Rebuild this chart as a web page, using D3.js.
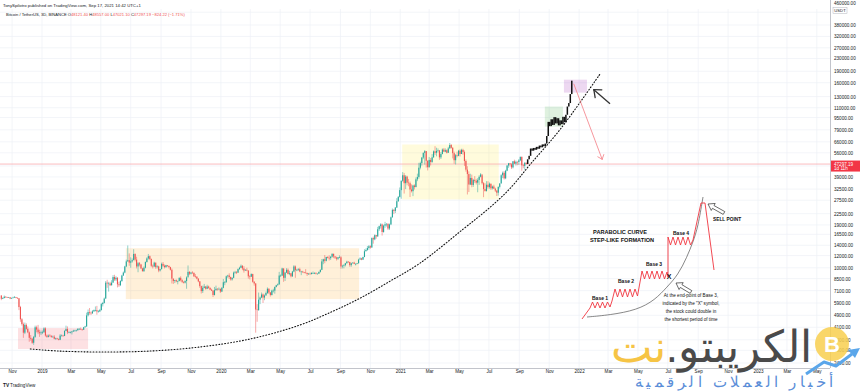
<!DOCTYPE html>
<html><head><meta charset="utf-8">
<script src="https://cdn.jsdelivr.net/npm/d3@7/dist/d3.min.js"></script>
<style>body{margin:0;background:#fff}svg{display:block}text{font-family:"Liberation Sans",Arial,sans-serif}</style>
</head><body>
<svg id="c" width="860" height="391"></svg>
<script>
// ---------------- DATA ----------------
const startDate = "2018-10-10";   // open date of first 3D candle
const periodDays = 3;
const firstOpen = 6600;
const closes = [
6280,6350,6480,6420,6400,6420,6300,6360,6400,6450,6380,6330,5550,4620,4300,3780,4250,4000,3800,3500,3450,3250,3550,4100,3960,3800,3750,3800,
3800,4030,3620,3550,3620,3600,3550,3560,3450,3470,3440,3400,3620,3620,3600,3880,3990,3800,3800,3800,3850,3900,3900,3920,4000,4000,3980,3950,4100,4150,
4900,5150,5100,5050,5200,5300,5300,5200,5200,5300,5800,5900,6300,8000,7900,7900,7700,8000,8700,8400,8600,7800,7700,8200,8900,9300,10200,11000,11200,10800,
11000,11200,12300,11300,10200,10700,10500,9900,9500,10000,10900,11500,11900,11400,10300,10200,10800,10100,10200,9600,9800,10600,10300,10100,10400,10300,10100,9700,8500,8200,8300,8150,
8200,8600,8300,8100,8000,8200,8650,9400,9150,9300,9250,8800,8750,8500,8150,7600,7050,7400,7550,7300,7550,7400,7200,7100,6650,7150,7300,7250,7300,7000,
7400,8050,8050,8800,8900,8700,8400,8600,9300,9400,9300,9800,10000,10300,9900,9600,9700,9600,8800,8750,9100,8100,7900,5350,5300,6200,6400,6700,6400,6600,
6850,7300,6900,6650,7100,7100,7500,7700,7800,8900,8900,9900,8600,9300,9700,9100,9200,8800,9450,10200,9650,9700,9800,9450,9450,9380,9300,9250,9100,9150,
9100,9250,9250,9250,9150,9150,9400,9700,11000,11350,11100,11750,11600,11550,11800,12300,11850,11650,11450,11700,11700,10200,10300,10400,10700,10950,10900,10400,10700,10800,10600,10600,
10700,11300,11500,11300,11750,12800,13050,13450,13800,13550,15600,15300,16300,16000,17800,18650,19150,17100,18800,19200,19350,18000,19150,21300,23800,23450,24650,27100,28900,32000,
36800,40000,35500,39200,35800,35500,32300,31500,34300,33500,37600,39000,44800,48000,52100,55900,57400,49700,45100,50300,48800,52300,57200,56000,57600,58000,52300,55000,58800,57000,
58200,56000,59800,62900,60300,55700,50100,54000,53500,57800,55000,58500,56700,49500,43500,40700,34800,38400,34600,37300,36800,35800,37300,39100,40500,35500,32500,31600,34700,33500,
35300,32900,33800,32700,31800,30800,33600,35400,40000,41500,38200,42800,46300,47800,47100,45000,49300,47600,48900,48800,50000,52700,46400,46000,48121.4,47297.19];
const highs = [
6620,6420,6600,6520,6470,6460,6440,6400,6480,6550,6460,6400,6350,5650,4700,4400,4400,4350,4150,3850,3650,3500,3600,4200,4200,4250,3950,3900,
3900,4100,4100,3680,3680,3700,3650,3620,3640,3510,3500,3470,3700,3680,3660,3920,4200,4150,3860,3850,3880,3950,3950,3960,4050,4060,4090,4000,4120,4190,
5100,5350,5470,5200,5300,5350,5600,5650,5300,5400,5900,6000,6400,8200,8350,8100,8100,8300,8950,9000,8800,8700,8100,8300,9000,9450,10300,11300,13970,12400,
11700,11500,13200,12400,11800,10900,10900,10600,10000,10200,11000,11700,12300,12000,11500,10500,10950,10800,10400,10300,9850,10800,10900,10500,10450,10400,10300,10150,9900,8500,8350,8400,
8250,8650,8800,8420,8150,8300,8800,10350,9500,9400,9500,9350,9100,8800,8550,8200,7650,7650,7850,7600,7750,7650,7450,7300,7150,7500,7650,7350,7450,7300,
7500,8450,8200,8900,9000,9200,8750,8650,9450,9550,9500,9900,10150,10500,10400,10250,9800,10000,9600,8950,9200,9150,8200,7950,5800,6900,6500,6900,6800,6700,
7000,7450,7350,6950,7200,7300,7550,7750,7900,9400,9050,10000,9900,9400,9950,9900,9550,9250,9550,10400,10350,9850,9950,10000,9550,9550,9400,9800,9300,9250,
9300,9350,9450,9350,9350,9200,9450,9750,11400,11450,12100,11800,11900,12050,11900,12450,12400,11900,11800,11750,12050,11900,10450,10550,10750,11100,11050,10950,10800,10850,10950,10700,
10750,11450,11700,11600,11800,13200,13350,13850,14050,14000,15750,15950,16500,16350,18450,18800,19500,19400,19050,19900,19450,19400,19400,21550,24300,24100,24850,28400,29300,33300,
37000,41950,41400,40100,39700,37850,36400,34900,34700,34900,38700,40950,48200,49000,52600,56400,58350,57500,50000,52600,51800,54900,58000,61800,60400,59800,58400,56600,59800,60200,
59800,58900,61200,64850,63800,61000,57000,55000,57000,58500,59000,59500,59500,58000,50700,45800,42400,40900,40400,37900,39500,37900,38300,40000,41300,39500,36100,35500,36600,36600,
35900,35100,34300,34700,33200,32000,33800,35400,40600,42300,42600,43400,46500,48100,48100,47900,49500,50500,49800,49300,51000,52900,52900,47300,48800,48557];
const lows = [
6150,6250,6330,6380,6360,6370,6250,6280,6340,6380,6330,6270,5300,4450,4200,3500,3700,3950,3750,3300,3350,3200,3150,3500,3800,3700,3550,3650,
3700,3780,3560,3500,3520,3560,3500,3520,3420,3390,3400,3370,3380,3580,3560,3590,3870,3700,3750,3740,3680,3820,3850,3840,3900,3940,3950,3890,3940,4080,
4130,4820,4950,4920,5020,5170,5200,4950,5100,5150,5280,5600,5850,6300,7400,7000,7600,7650,8000,8200,8200,7450,7500,7600,8100,8850,9200,10100,10950,10300,
10000,10800,11200,11000,9900,9350,10200,9800,9450,9400,9900,10800,11300,11200,10100,9900,10100,9850,9900,9350,9450,9750,10100,9900,10000,10150,9900,9600,7900,7850,7950,8050,
7800,8150,8150,7950,7900,7900,7300,8950,8950,9050,9150,8700,8600,8400,8050,7400,6800,6850,7350,7200,7250,7300,7150,7050,6450,6600,7100,7100,7150,6850,
6950,7350,7700,8000,8600,8450,8250,8250,8550,9150,9100,9250,9700,9950,9650,9300,9550,9500,8500,8400,8700,8000,7650,3780,4450,5250,5800,6350,5900,6150,
6600,6750,6750,6500,6600,6900,6780,7450,7650,7750,8700,8850,8100,8200,9250,9050,8950,8650,8700,9350,8600,9500,9550,9350,8950,9250,9200,9200,8850,9000,
9050,9050,9150,9100,9050,9050,9100,9300,9650,10550,10700,11000,11500,11150,11250,11650,11550,11400,11150,11250,11550,9850,9900,9900,10200,10650,10800,10150,10150,10650,10550,10350,
10550,10650,11300,11200,11250,11700,12800,12900,13100,13300,13500,14350,15100,15450,15900,17350,18000,16200,16900,18200,18550,17600,17600,18950,21200,22350,22700,24500,26850,28650,
28100,36300,30400,32500,34400,33900,28850,30900,29250,32300,33400,36600,38000,43700,46200,50900,46900,44900,43000,44900,46300,48100,52000,54200,53100,56300,50400,51000,54700,56700,
56500,55400,56000,59600,59600,51500,47500,47000,52300,53200,53000,55300,54500,46000,42200,30000,31100,34500,33400,33600,35700,34800,31000,34600,38700,34800,28800,31300,31300,32700,
32700,32100,32300,32600,31100,29300,29500,32800,35300,38300,37500,37700,42500,44700,45600,43900,44300,47300,46300,46500,46700,49400,42800,44400,43400,47021.1];

// projected "bars pattern" (black) after the last candle
const projStart = "2021-09-18";
const projCloses = [50800,53500,59700,57800,60200,58600,61200,59500,62400,60800,63500,61800,64300,72000,89000,83500,92500,85000,95500,87000,94000,84500,91000,86000,96000,88500,99000,112000,118000,135000,165000];

// dotted parabolic support curve
const curveDates  = ["2018-12-08","2019-02-06","2019-04-29","2019-08-09","2019-11-19","2020-02-29","2020-06-10","2020-08-17","2020-10-11","2020-12-11","2021-02-10","2021-05-09","2021-07-03","2021-08-13","2021-09-23","2021-11-23","2022-02-13"];
const curvePrices = [2960,2870,2830,2870,3050,3435,4235,5220,6340,8175,10700,17800,24700,32800,47000,79300,183000];

// highlighted zones
const zoneStart = ["2018-11-13","2019-06-21","2021-01-05","2021-10-23","2021-12-01"];
const zoneEnd   = ["2019-04-05","2020-10-09","2021-07-21","2021-11-29","2022-01-17"];
const zoneLow   = [2960,6250,27850,82900,138000];
const zoneHigh  = [4050,13400,63400,112000,167500];

// arrows [fromDate, fromPrice, toDate, toPrice]
const redArrow   = ["2021-12-21",157700,"2022-02-17",50800];
const blackArrow = ["2022-03-05",116900,"2022-01-31",144200];

const lastPrice = 47297.19;
const priceTicks = [2400,2900,3400,4100,4900,5900,7100,8500,10000,12000,14000,16500,19000,22500,27500,32500,39000,46000,56000,66000,79000,95000,110000,130000,160000,190000,230000,270000,320000,380000,460000];
const hiddenTick = 46000;   // covered by the last-price label
const monthNames = ["Jan","Feb","Mar","Apr","May","Jun","Jul","Aug","Sep","Oct","Nov","Dec"];

// inset illustration (coordinates in the inset's own units)
const insetZigzag = [[12,129],[20,118],[22.5,112],[25,118],[27.5,112],[30,118],[32.5,112],[35,118],[37.5,112],[40,117],[42,111],
 [45,99],[47.5,107],[50,99],[52.5,107],[55,99],[57.5,107],[60,99],[62.5,107],[65,99],[67.5,106],
 [72,81],[74.5,89],[77,81],[79.5,89],[82,81],[84.5,89],[87,81],[89.5,89],[92,81],[94.5,89],[97,82],[98,87],
 [98,47],[100.5,55],[103,47],[105.5,55],[108,47],[110.5,55],[113,47],[115.5,55],[118,47],[120.5,55],[123,50],
 [131,13],[135,13],[144,80]];
const insetCurve = [[17,127],[40,125],[67,120],[85,110],[97,97],[108,85],[117,67],[123,52],[128,37],[133,7]];
const baseLabels = ["Base 1","Base 2","Base 3","Base 4"];
const baseLabelPos = [[22,110],[48,93],[76,76],[103,45]];
const noteLines = ["At the end-point of Base 3,","indicated by the \"X\" symbol,","the stock could double in","the shortest period of time"];

// ---------------- DRAW ----------------
const svg = d3.select("#c");
const W = 860, H = 391, plotR = 830, plotT = 9, plotB = 368;
const P = d3.utcParse("%Y-%m-%d");
const x = d3.scaleUtc().domain([Date.UTC(2019,0,1), Date.UTC(2023,0,1)]).range([42,758]);
const y = d3.scaleLog().domain([2400,380000]).range([363,25]);

svg.append("rect").attr("width",W).attr("height",H).attr("fill","#fff");
svg.append("defs").append("clipPath").attr("id","pc").append("rect")
  .attr("x",0).attr("y",plotT).attr("width",plotR).attr("height",plotB-plotT);

// grid
const timeTicks = d3.utcMonth.every(2).range(new Date(Date.UTC(2018,10,1)), new Date(Date.UTC(2023,5,2)));
const grid = svg.append("g").attr("clip-path","url(#pc)");
grid.selectAll("line.v").data(timeTicks).join("line")
  .attr("x1",d=>x(d)).attr("x2",d=>x(d)).attr("y1",plotT).attr("y2",plotB)
  .attr("stroke","#eef1f6").attr("stroke-width",0.7);
grid.selectAll("line.h").data(priceTicks).join("line")
  .attr("x1",0).attr("x2",plotR).attr("y1",d=>y(d)).attr("y2",d=>y(d))
  .attr("stroke","#eef1f6").attr("stroke-width",0.7);

const plot = svg.append("g").attr("clip-path","url(#pc)");

// zones
const zoneColors = ["rgba(242,54,69,0.15)","rgba(255,152,0,0.15)","rgba(255,235,59,0.18)","rgba(76,175,80,0.18)","rgba(156,39,176,0.18)"];
zoneStart.forEach((s,i)=>{
  plot.append("rect").attr("x",x(P(s))).attr("width",x(P(zoneEnd[i]))-x(P(s)))
    .attr("y",y(zoneHigh[i])).attr("height",y(zoneLow[i])-y(zoneHigh[i]))
    .attr("fill",zoneColors[i]);
});

// last price line
plot.append("line").attr("x1",0).attr("x2",plotR).attr("y1",y(lastPrice)).attr("y2",y(lastPrice))
  .attr("stroke","#f7a9ae").attr("stroke-width",0.8);

// candles
const t0 = P(startDate);
const candles = closes.map((c,i)=>({
  d: d3.utcDay.offset(t0, i*periodDays),
  o: i===0 ? firstOpen : closes[i-1], c, h: highs[i], l: lows[i]
}));
const bw = 1.1;
const cg = plot.append("g");
cg.selectAll("line").data(candles).join("line")
  .attr("x1",d=>x(d.d)).attr("x2",d=>x(d.d))
  .attr("y1",d=>y(d.h)).attr("y2",d=>y(d.l))
  .attr("stroke",d=>d.c>=d.o?"#26a69a":"#ef5350").attr("stroke-width",0.5);
cg.selectAll("rect").data(candles).join("rect")
  .attr("x",d=>x(d.d)-bw/2).attr("width",bw)
  .attr("y",d=>y(Math.max(d.o,d.c)))
  .attr("height",d=>Math.max(0.6,y(Math.min(d.o,d.c))-y(Math.max(d.o,d.c))))
  .attr("fill",d=>d.c>=d.o?"#26a69a":"#ef5350");

// projection
const p0 = P(projStart);
const proj = projCloses.map((c,i)=>({d:d3.utcDay.offset(p0,i*periodDays), o: i===0?lastPrice:projCloses[i-1], c}));
plot.append("g").selectAll("rect").data(proj).join("rect")
  .attr("x",d=>x(d.d)-0.75).attr("width",1.5)
  .attr("y",d=>y(Math.max(d.o,d.c))).attr("height",d=>Math.max(0.8,Math.abs(y(d.o)-y(d.c))))
  .attr("fill","#111");

// dotted curve
plot.append("path")
  .datum(curveDates.map((d,i)=>[x(P(d)),y(curvePrices[i])]))
  .attr("d",d3.line().curve(d3.curveCatmullRom))
  .attr("fill","none").attr("stroke","#111").attr("stroke-width",1.1)
  .attr("stroke-dasharray","0.9,2.1").attr("stroke-linecap","round");

// arrows
function arrow(g, a, color, w, head){
  const x1=x(P(a[0])), y1=y(a[1]), x2=x(P(a[2])), y2=y(a[3]);
  g.append("line").attr("x1",x1).attr("y1",y1).attr("x2",x2).attr("y2",y2)
    .attr("stroke",color).attr("stroke-width",w);
  const ang = Math.atan2(y2-y1,x2-x1);
  [ang+Math.PI*0.78, ang-Math.PI*0.78].forEach(b=>{
    g.append("line").attr("x1",x2).attr("y1",y2)
      .attr("x2",x2+head*Math.cos(b)).attr("y2",y2+head*Math.sin(b))
      .attr("stroke",color).attr("stroke-width",w).attr("stroke-linecap","round");
  });
}
arrow(plot, redArrow, "#f47c84", 0.8, 5);
arrow(plot, blackArrow, "#333", 1.3, 8);

// ---------- inset illustration ----------
const ix = d3.scaleLinear().domain([0,160]).range([570,730]);
const iy = d3.scaleLinear().domain([0,140]).range([190,330]);
const ins = plot.append("g");
ins.append("path").datum(insetCurve).attr("d",d3.line().x(d=>ix(d[0])).y(d=>iy(d[1])).curve(d3.curveBasis))
  .attr("fill","none").attr("stroke","#555").attr("stroke-width",0.7);
ins.append("path").datum(insetZigzag).attr("d",d3.line().x(d=>ix(d[0])).y(d=>iy(d[1])))
  .attr("fill","none").attr("stroke","#f0353f").attr("stroke-width",0.9).attr("stroke-linejoin","miter");
ins.append("text").attr("x",ix(50)).attr("y",iy(44)).attr("text-anchor","middle")
  .attr("font-size",5.6).attr("font-weight","bold").attr("fill","#111").text("PARABOLIC CURVE");
ins.append("text").attr("x",ix(52)).attr("y",iy(52)).attr("text-anchor","middle")
  .attr("font-size",5.6).attr("font-weight","bold").attr("fill","#111").text("STEP-LIKE FORMATION");
baseLabels.forEach((t,i)=>ins.append("text").attr("x",ix(baseLabelPos[i][0])).attr("y",iy(baseLabelPos[i][1]))
  .attr("font-size",5).attr("font-weight","bold").attr("fill","#111").text(t));
ins.append("text").attr("x",ix(99)).attr("y",iy(89)).attr("text-anchor","middle")
  .attr("font-size",7).attr("font-weight","bold").attr("fill","#111").text("X");
ins.append("text").attr("x",ix(143)).attr("y",iy(31))
  .attr("font-size",4.8).attr("font-weight","bold").attr("fill","#111").text("SELL POINT");
noteLines.forEach((t,i)=>ins.append("text").attr("x",ix(121)).attr("y",iy(107+i*8)).attr("text-anchor","middle")
  .attr("font-size",4.6).attr("fill","#111").text(t));
function hollowArrow(tip, tail){
  const tx=ix(tip[0]), ty=iy(tip[1]), ex=ix(tail[0]), ey=iy(tail[1]);
  const L=Math.hypot(ex-tx,ey-ty), a=Math.atan2(ey-ty,ex-tx)*180/Math.PI;
  const pts=[[0,0],[6,-4],[6,-1.6],[L,-1.6],[L,1.6],[6,1.6],[6,4]];
  ins.append("polygon").attr("points",pts.map(p=>p.join(",")).join(" "))
    .attr("transform",`translate(${tx},${ty}) rotate(${a})`)
    .attr("fill","#fff").attr("stroke","#222").attr("stroke-width",0.6);
}
hollowArrow([138,14],[154,23]);
hollowArrow([106,93],[121,102]);

// ---------- axes ----------
svg.append("line").attr("x1",plotR+0.5).attr("x2",plotR+0.5).attr("y1",0).attr("y2",plotB)
  .attr("stroke","#b2b5be").attr("stroke-width",0.8);
svg.append("line").attr("x1",0).attr("x2",plotR).attr("y1",plotB+0.5).attr("y2",plotB+0.5)
  .attr("stroke","#b2b5be").attr("stroke-width",0.8);

const ya = svg.append("g").attr("transform",`translate(${plotR},0)`)
  .call(d3.axisRight(y).tickValues(priceTicks.filter(v=>v!==hiddenTick)).tickFormat(d3.format(".2f")).tickSize(0).tickPadding(4));
ya.select(".domain").remove();
ya.selectAll("text").attr("font-size",4.6).attr("fill","#131722").attr("font-family","Liberation Sans, Arial, sans-serif");
ya.selectAll(".tick").filter(d=>d===460000).attr("transform","translate(0,4)");

const xa = svg.append("g").attr("transform",`translate(0,${plotB})`)
  .call(d3.axisBottom(x).tickValues(timeTicks)
    .tickFormat(d=>d.getUTCMonth()===0? String(d.getUTCFullYear()) : monthNames[d.getUTCMonth()])
    .tickSize(0).tickPadding(2));
xa.select(".domain").remove();
xa.selectAll("text").attr("font-size",4.6).attr("fill","#131722").attr("font-family","Liberation Sans, Arial, sans-serif");

// USDT tag
svg.append("rect").attr("x",833).attr("y",7.5).attr("width",14).attr("height",6)
  .attr("fill","#fff").attr("stroke","#b2b5be").attr("stroke-width",0.5);
svg.append("text").attr("x",840).attr("y",12.1).attr("text-anchor","middle").attr("font-size",4.2).attr("fill","#131722").text("USDT");

// last price label
const ly = y(lastPrice);
svg.append("rect").attr("x",plotR+1).attr("y",ly-3.5).attr("width",29).attr("height",11).attr("fill","#f23645");
svg.append("text").attr("x",plotR+4).attr("y",ly+1.6).attr("font-size",4.6).attr("fill","#fff").text(d3.format(".2f")(lastPrice));
svg.append("text").attr("x",plotR+4).attr("y",ly+6.4).attr("font-size",4.6).attr("fill","#fff").text("1d 11h");

// header
svg.append("text").attr("x",3).attr("y",6.5).attr("font-size",4.3).attr("fill","#131722")
  .text("TonySpilotro published on TradingView.com, Sep 17, 2021 14:42 UTC+1");
const h2 = svg.append("text").attr("x",6).attr("y",16).attr("font-size",4.1).attr("fill","#131722");
h2.append("tspan").text("Bitcoin / TetherUS, 3D, BINANCE  O");
h2.append("tspan").attr("fill","#ef5350").text("48121.40");
h2.append("tspan").text(" H");
h2.append("tspan").attr("fill","#ef5350").text("48557.00");
h2.append("tspan").text(" L");
h2.append("tspan").attr("fill","#ef5350").text("47021.10");
h2.append("tspan").text(" C");
h2.append("tspan").attr("fill","#ef5350").text("47297.19 \u2212824.22 (\u22121.71%)");

// TradingView footer
svg.append("text").attr("x",3).attr("y",387).attr("font-size",4.8).attr("font-weight","bold").attr("fill","#131722").text("TV");
svg.append("text").attr("x",10).attr("y",387).attr("font-size",4.6).attr("fill","#131722").text("TradingView");

// watermark
const wm = svg.append("g");
wm.append("circle").attr("cx",832).attr("cy",344).attr("r",17).attr("fill","#f8cf4f").attr("opacity",0.85);
wm.append("text").attr("x",832).attr("y",352).attr("text-anchor","middle").attr("font-size",22)
  .attr("font-weight","bold").attr("fill","#fff").text("B");
wm.append("polyline").attr("points","806,374 824,362 836,366 852,354")
  .attr("fill","none").attr("stroke","#5aa6ea").attr("stroke-width",3).attr("stroke-linejoin","round");
wm.append("polygon").attr("points","860,348 848,350 855,358").attr("fill","#5aa6ea");
const t1 = wm.append("text").attr("x",812).attr("y",362).attr("direction","rtl").attr("text-anchor","start")
  .attr("font-size",44).attr("font-family","DejaVu Sans");
t1.append("tspan").attr("fill","#4a4a4a").text("الكريبتو.");
t1.append("tspan").attr("fill","#f6c445").text("نت");
const sub = wm.append("text").attr("x",833).attr("y",387).attr("direction","rtl").attr("text-anchor","start")
  .attr("font-size",15).attr("font-family","DejaVu Sans").attr("fill","#5b8ed8")
  .text("أخبار العملات الرقمية");
sub.attr("textLength",198).attr("lengthAdjust","spacing");
</script>
</body></html>
